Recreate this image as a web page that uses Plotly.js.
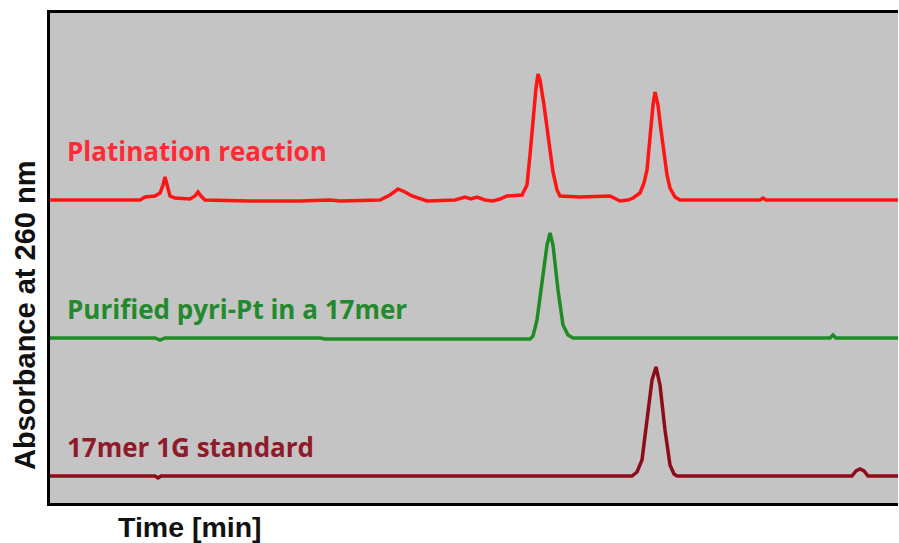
<!DOCTYPE html>
<html>
<head>
<meta charset="utf-8">
<script src="https://cdn.plot.ly/plotly-3.0.1.min.js"></script>
<style>html,body{margin:0;padding:0;background:#fff;}#chart{width:899px;height:543px;}</style>
</head>
<body>
<div id="chart"></div>
<script>
// Time axis (arbitrary) and absorbance (arbitrary units, stacked)
const redTime = [50,140,145,155,160,163,165,167,170,175,190,195,198,201,205,250,300,330,340,380,390,398,405,412,420,427,455,465,471,477,485,493,500,507,522,527,530,533,536,538,540,544,547,550,553,557,560,580,610,615,620,628,633,640,644,647,650,653,655,658,661,664,667,670,675,680,760,763,766,898];
const redAbs  = [303,303,306,307,310,318,326,318,307,305,304,307,311,307,303,302,302,303,302,303,308,314,311,307,304,302,303,306,304,306,303,302,304,307,308,318,348,383,415,429,423,398,378,353,331,313,307,306,307,304,302,303,305,310,320,333,368,398,411,398,373,348,328,315,306,303,303,305,303,303];

const greenTime = [50,155,160,165,320,325,530,533,537,542,547,550,553,558,563,568,573,830,833,836,898];
const greenAbs  = [165,165,163,165,165,164,164,167,183,223,258,270,258,213,178,168,165,165,168,165,165];

const stdTime = [50,155,158,161,632,637,642,647,652,656,660,665,670,674,677,852,856,860,864,868,898];
const stdAbs  = [27,27,25,27,27,31,43,83,123,136,118,73,38,29,27,27,32,34,32,27,27];

const labels = ["Platination reaction","Purified pyri-Pt in a 17mer","17mer 1G standard"];
const labelY = [352,194,56];
const colors = ["#ff1414","#1e8c23","#8e0c1a"];
const textColors = ["#ff2a36","#228a2c","#8e1a2a"];

const traces = [
  {x: redTime, y: redAbs, mode:'lines', line:{color:colors[0], width:3.5}, hoverinfo:'skip', name:labels[0]},
  {x: greenTime, y: greenAbs, mode:'lines', line:{color:colors[1], width:3.5}, hoverinfo:'skip', name:labels[1]},
  {x: stdTime, y: stdAbs, mode:'lines', line:{color:colors[2], width:3.5}, hoverinfo:'skip', name:labels[2]}
];

const ann = labels.map((t,i)=>({
  text:t, x:65, y:labelY[i], xref:'x', yref:'y', xanchor:'left', yanchor:'middle', showarrow:false,
  font:{family:'Open Sans, Liberation Sans, sans-serif', size:26, color:textColors[i], weight:'bold'}
}));
const W=899,H=543,ml=50,mr=1,mt=13,mb=40;
const pw=W-ml-mr, ph=H-mt-mb;
ann.push({text:'Time [min]', x:(116-ml)/pw, y:(H-mb-527)/ph, xref:'paper', yref:'paper', xanchor:'left', yanchor:'middle', showarrow:false,
  font:{family:'Liberation Sans, Arial, sans-serif', size:28.5, color:'#111', weight:'bold'}});
ann.push({text:'Absorbance at 260 nm', x:(25-ml)/pw, y:(H-mb-316)/ph, xref:'paper', yref:'paper', xanchor:'center', yanchor:'middle', textangle:-90, showarrow:false,
  font:{family:'Liberation Sans, Arial, sans-serif', size:29, color:'#111', weight:'bold'}});

const layout = {
  width:W, height:H,
  margin:{l:ml, r:mr, t:mt, b:mb},
  paper_bgcolor:'#ffffff', plot_bgcolor:'#c4c4c4',
  showlegend:false,
  xaxis:{range:[50,898], showgrid:false, zeroline:false, showticklabels:false, ticks:'',
         showline:true, mirror:true, linecolor:'#000', linewidth:3},
  yaxis:{range:[0,490], showgrid:false, zeroline:false, showticklabels:false, ticks:'',
         showline:true, linecolor:'#000', linewidth:3},
  annotations:ann
};
Plotly.newPlot('chart', traces, layout, {staticPlot:true, displayModeBar:false});
</script>
</body>
</html>
